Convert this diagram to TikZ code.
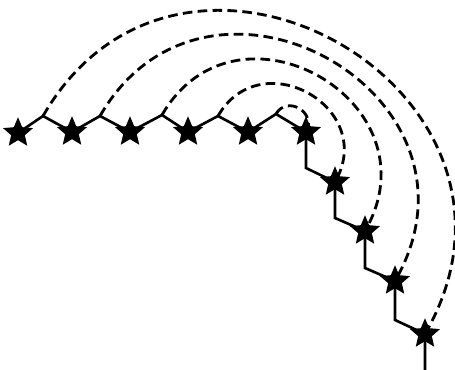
\documentclass[tikz,border=0pt]{standalone}
\usetikzlibrary{shapes.geometric}
\begin{document}
\begin{tikzpicture}[knot/.style={star,star points=5,star point ratio=2.2,fill=black,inner sep=0pt,minimum size=6.3mm},link/.style={line width=1.5pt},bow/.style={line width=1.6pt,dash pattern=on 5.5pt off 3pt,out=60,in=60,looseness=1.63}]
\useasboundingbox (0,0) rectangle (9.1,7.4);
\node[knot] (s1) at (0.36,4.74) {};
\node[knot] (s2) at (1.44,4.76) {};
\node[knot] (s3) at (2.60,4.76) {};
\node[knot] (s4) at (3.76,4.76) {};
\node[knot] (s5) at (4.96,4.76) {};
\node[knot] (s6) at (6.12,4.76) {};
\node[knot] (v1) at (6.70,3.76) {};
\node[knot] (v2) at (7.30,2.78) {};
\node[knot] (v3) at (7.90,1.78) {};
\node[knot] (v4) at (8.50,0.72) {};
\coordinate (p1) at (0.86,5.08);
\coordinate (p2) at (2.00,5.08);
\coordinate (p3) at (3.24,5.10);
\coordinate (p4) at (4.36,5.08);
\coordinate (p5) at (5.52,5.12);
\coordinate (c1) at (6.12,4.04);
\coordinate (c2) at (6.70,3.04);
\coordinate (c3) at (7.30,2.04);
\coordinate (c4) at (7.90,1.00);
\coordinate (tail) at (8.50,0);
\draw[link] (s1.center)--(p1)--(s2.center)--(p2)--(s3.center)--(p3)--(s4.center)--(p4)--(s5.center)--(p5)--(s6.center);
\draw[link] (s6.center)--(c1)--(v1.center)--(c2)--(v2.center)--(c3)--(v3.center)--(c4)--(v4.center)--(tail);
\draw[bow] (p1) to (v4.center);
\draw[bow] (p2) to (v3.center);
\draw[bow] (p3) to (v2.center);
\draw[bow] (p4) to (v1.center);
\draw[bow] (p5) to (s6.center);
\end{tikzpicture}
\end{document}
